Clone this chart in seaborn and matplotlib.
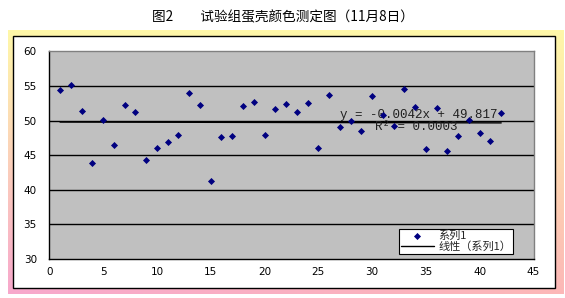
import numpy as np
import pandas as pd
import matplotlib
matplotlib.use("Agg")
import matplotlib.pyplot as plt
import seaborn as sns
from matplotlib.patches import Rectangle

# ---- data ----
sample_no = list(range(1, 43))
color_value = [54.4, 55.2, 51.4, 43.8, 50.1, 46.5, 52.2, 51.3, 44.3, 46.0,
               46.9, 47.9, 54.0, 52.3, 41.2, 47.6, 47.8, 52.1, 52.7, 47.9,
               51.6, 52.4, 51.3, 52.6, 46.1, 53.7, 49.0, 50.0, 48.5, 53.6,
               50.8, 49.2, 54.5, 51.9, 45.9, 51.8, 45.6, 47.7, 50.1, 48.2,
               47.1, 51.1]
x_ticks = [0, 5, 10, 15, 20, 25, 30, 35, 40, 45]
y_ticks = [30, 35, 40, 45, 50, 55, 60]
title = "图2　　试验组蛋壳颜色测定图（11月8日）"
series_label = "系列1"
trend_label = "线性（系列1）"
eq_text = "y = -0.0042x + 49.817"
r2_text = "R² = 0.0003"

df = pd.DataFrame({"x": sample_no, "y": color_value})

sns.set_theme(style="white")
plt.rcParams['font.family'] = ['Noto Sans CJK SC', 'DejaVu Sans']

W, H = 565, 298
fig = plt.figure(figsize=(W / 100, H / 100), dpi=100)
fig.patch.set_facecolor("white")

# gradient frame
bg = fig.add_axes([8 / W, 1 - 294 / H, (564 - 8) / W, (294 - 30) / H])
ny, nx = 100, 200
yy = np.linspace(0, 1, ny)[:, None]
xx = np.linspace(0, 1, nx)[None, :]
top = np.array([1.0, 0.97, 0.66])
bot = np.array([0.97, 0.66, 0.80])
right_bot = np.array([0.99, 0.72, 0.72])
t = np.clip(yy * 1.0, 0, 1)
mixL = top[None, None, :] * (1 - t[..., None]) + bot[None, None, :] * t[..., None]
mixR = top[None, None, :] * (1 - t[..., None]) + right_bot[None, None, :] * t[..., None]
img = mixL * (1 - xx[..., None]) + mixR * xx[..., None]
bg.imshow(img, aspect="auto", extent=[0, 1, 0, 1], origin="upper")
bg.add_patch(Rectangle(((13 - 8) / 556, (294 - 288) / 264), (555 - 13) / 556, (288 - 36) / 264,
                       facecolor="white", edgecolor="black", lw=1.0, transform=bg.transAxes))
bg.set_axis_off()

fig.text(0.5, 1 - 17 / H, title, ha="center", va="center", fontsize=9.8, color="black")

ax = fig.add_axes([49.3 / W, 1 - 259 / H, (533.5 - 49.3) / W, (259 - 51.3) / H])
ax.set_facecolor("#C0C0C0")

sns.scatterplot(data=df, x="x", y="y", ax=ax, marker="D", s=13, color="#000080",
                edgecolor="#000080", linewidth=0, zorder=3, label=series_label)
sns.regplot(data=df, x="x", y="y", ax=ax, scatter=False, ci=None,
            line_kws={"color": "black", "lw": 1.0, "zorder": 2}, label=trend_label)

ax.set_xlim(0, 45)
ax.set_ylim(30, 60)
ax.set_xticks(x_ticks)
ax.set_yticks(y_ticks)
for yv in y_ticks[1:-1]:
    ax.axhline(yv, color="black", lw=1.0, zorder=1)
ax.set_xlabel("")
ax.set_ylabel("")
ax.tick_params(axis="both", labelsize=7.5, colors="black", direction="in", length=3, width=0.8)
ax.tick_params(axis="x", pad=6)
ax.tick_params(axis="y", pad=9)
for lbl in ax.get_xticklabels() + ax.get_yticklabels():
    lbl.set_family(["DejaVu Sans"])
ax.spines["left"].set_color("black")
ax.spines["bottom"].set_color("black")
ax.spines["top"].set_color("#808080")
ax.spines["right"].set_color("#808080")
for s in ax.spines.values():
    s.set_linewidth(1.0)


def px2data(px, py):
    xd = (px - 49.3) / (533.5 - 49.3) * 45
    yd = 60 - (py - 51.3) / (259 - 51.3) * 30
    return xd, yd


ex, ey = px2data(419, 115)
rx, ry = px2data(416, 127)
ax.text(ex, ey, eq_text, fontsize=9, ha="center", va="center", color="#202020",
        family=["Liberation Mono"], zorder=2.5)
ax.text(rx, ry, r2_text, fontsize=9, ha="center", va="center", color="#202020",
        family=["Liberation Mono"], zorder=2.5)

handles, labels = ax.get_legend_handles_labels()
leg = ax.legend(handles, labels, loc="lower left",
                bbox_to_anchor=((399 - 49.3) / (533.5 - 49.3), (259 - 254) / (259 - 51.3)),
                fontsize=8, frameon=True, fancybox=False, framealpha=1,
                edgecolor="black", facecolor="white", borderpad=0.15, labelspacing=0.05,
                handlelength=3.0, handletextpad=0.4, borderaxespad=0)
leg.get_frame().set_linewidth(0.8)

fig.savefig("out.png", dpi=100)
